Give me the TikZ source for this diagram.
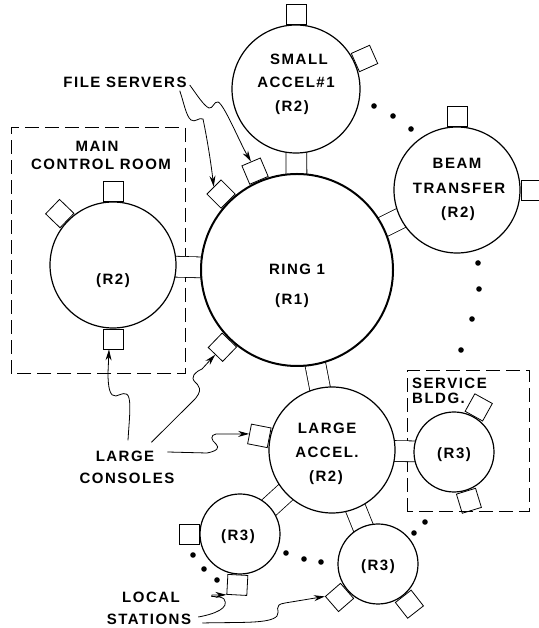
\documentclass[tikz,border=0pt]{standalone}
\usepackage{fontspec}
\setmainfont{Liberation Sans}[LetterSpace=10]
\usetikzlibrary{arrows.meta}

\tikzset{
  subring/.style={circle, draw, line width=1.2pt, fill=white, inner sep=0pt},
  station/.style={rectangle, draw, line width=0.8pt, minimum size=20pt, inner sep=0pt, anchor=south},
  link/.style={line width=0.8pt, double distance=20pt, double=white},
  lbl/.style={font=\bfseries\fontsize{15}{18}\selectfont, text height=11pt, text depth=0pt, inner sep=3pt},
  conn/.style={line width=0.8pt, -{Stealth[length=11pt,width=6pt]}},
  room/.style={line width=1pt, dash pattern=on 14pt off 6pt}
}

\begin{document}
\begin{tikzpicture}[x=1pt,y=1pt]

\useasboundingbox (0,0) rectangle (538,628);

% Ring centres
\coordinate (ringc) at (297,358);
\coordinate (smallc) at (296,539);
\coordinate (beamc) at (457,438);
\coordinate (mainc) at (113,363);
\coordinate (largec) at (332,178);
\coordinate (servc) at (454,176);
\coordinate (r3bc) at (378,64);
\coordinate (r3ac) at (240,94);

% Building outlines
\draw[room] (11,254) rectangle (185,500);
\draw[room] (407,116) rectangle (529,257);

% Links between rings
\foreach \a/\b in {ringc/smallc, ringc/beamc, ringc/mainc, ringc/largec,
                   largec/servc, largec/r3bc, largec/r3ac}
  \draw[link] (\a) -- (\b);

% Rings
\node[subring, line width=2pt, minimum size=192pt] (ring) at (ringc) {};
\node[subring, minimum size=128pt] (small) at (smallc) {};
\node[subring, minimum size=126pt] (beam) at (beamc) {};
\node[subring, minimum size=126pt] (main) at (mainc) {};
\node[subring, minimum size=126pt] (large) at (largec) {};
\node[subring, minimum size=80pt] (serv) at (servc) {};
\node[subring, minimum size=80pt] (r3b) at (r3bc) {};
\node[subring, minimum size=80pt] (r3a) at (r3ac) {};

% Stations on the rings
\foreach \c/\a/\n in {ring/135/fs1, ring/113/fs2, ring/226/rc,
                      small/90/sa1, small/24/sa2,
                      beam/90/bt1, beam/0/bt2,
                      main/90/mc1, main/136/mc2, main/270/mc3,
                      large/169/lc,
                      serv/61/sb1, serv/287/sb2,
                      r3b/221/ls2, r3b/308/rb2,
                      r3a/180/ra1, r3a/267/ls1}
  \node[station, rotate=\a-90] (\n) at (\c.\a) {};

% More stations (dots)
\foreach \x/\y in {374/522, 393/512, 411/499,
                   478/365, 479/339, 472/309, 461/278,
                   425/106, 414/95,
                   286/75, 304/69, 321/66,
                   193/73, 204/59, 217/48}
  \fill (\x,\y) circle (2.8);

% Ring texts
\node[lbl] (t-ring1) at (297,359) {RING 1};
\node[lbl] (t-ring2) at (292,329) {(R1)};
\node[lbl] (t-small1) at (299,569) {SMALL};
\node[lbl] (t-small2) at (296,546) {ACCEL\#1};
\node[lbl] (t-small3) at (292,522) {(R2)};
\node[lbl] (t-beam1) at (457,465) {BEAM};
\node[lbl] (t-beam2) at (459,440) {TRANSFER};
\node[lbl] (t-beam3) at (458,416) {(R2)};
\node[lbl] (t-main) at (113,349) {(R2)};
\node[lbl] (t-large1) at (327,200) {LARGE};
\node[lbl] (t-large2) at (327,176) {ACCEL.};
\node[lbl] (t-large3) at (326,152) {(R2)};
\node[lbl] (t-serv) at (454,175) {(R3)};
\node[lbl] (t-r3b) at (378,63) {(R3)};
\node[lbl] (t-r3a) at (238,93) {(R3)};

% Room titles
\node[lbl] (t-room1) at (97,482) {MAIN};
\node[lbl] (t-room2) at (101,464) {CONTROL ROOM};
\node[lbl, anchor=west] (t-bldg1) at (409,245) {SERVICE};
\node[lbl, anchor=west] (t-bldg2) at (409,230) {BLDG.};

% Callouts
\node[lbl] (t-fs) at (125,546) {FILE SERVERS};
\node[lbl] (t-lar) at (125,172) {LARGE};
\node[lbl] (t-con) at (127,150) {CONSOLES};
\node[lbl] (t-loc) at (151,31) {LOCAL};
\node[lbl] (t-sta) at (149,9) {STATIONS};

% File server arrows
\draw[conn] ([xshift=-10pt]t-fs.south east)
  .. controls (184,525) and (186,512) .. (191,508)
  .. controls (195,505) and (199,511) .. (203,509)
  .. controls (207,490) and (211,465) .. (fs1.north);
\draw[conn] ([yshift=-3pt]t-fs.east)
  .. controls (197,533) and (204,522) .. (209,520)
  .. controls (213,519) and (214,527) .. (218,526)
  .. controls (224,524) and (240,485) .. (fs2.north);

% Console arrows
\draw[conn] ([shift={(3,7)}]t-lar.north)
  .. controls (129,205) and (131,222) .. (129,230)
  .. controls (127,238) and (120,233) .. (116,232)
  .. controls (110,231) and (108,240) .. (108,255)
  -- ([xshift=-4pt]mc3.north);
\draw[conn] ([shift={(-6,5)}]t-lar.north east) -- (192,226)
  .. controls (205,238) and (198,243) .. (195,246)
  .. controls (190,251) and (195,256) .. (202,259) -- (rc.north);
\draw[conn] ([shift={(10,4)}]t-lar.east) -- (207,175)
  .. controls (217,177) and (220,180) .. (216,184)
  .. controls (211,188) and (210,193) .. (216,194) -- (lc.north);

% Local station arrows
\draw[conn] ([shift={(4,2)}]t-sta.east)
  .. controls (215,14) and (230,20) .. (224,29)
  .. controls (220,33) and (208,30) .. (212,33) -- (ls1.north east);
\draw[conn] ([shift={(8,-4)}]t-sta.east)
  .. controls (240,6) and (270,4) .. (277,12)
  .. controls (281,17) and (272,23) .. (285,25) -- (ls2.north east);

\end{tikzpicture}
\end{document}
